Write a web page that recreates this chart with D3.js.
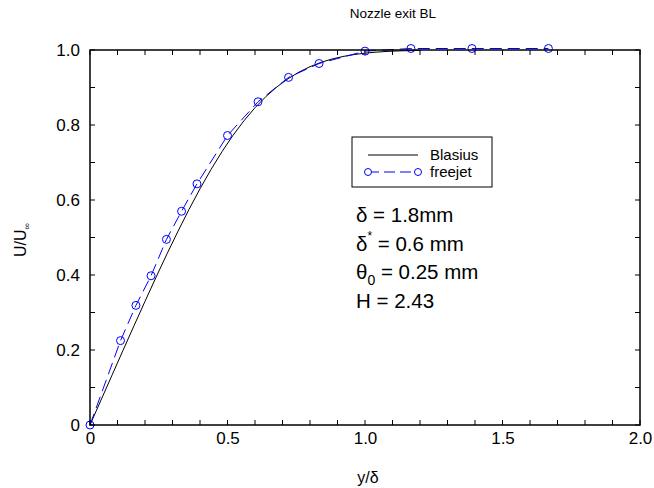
<!DOCTYPE html>
<html>
<head>
<meta charset="utf-8">
<script src="https://cdn.jsdelivr.net/npm/d3@7"></script>
<style>
  html, body { margin: 0; padding: 0; background: #fff; }
  svg { display: block; font-family: "Liberation Sans", Arial, Helvetica, sans-serif; }
</style>
</head>
<body>
<svg id="chart" width="654" height="488"></svg>
<script>
// Blasius similarity profile, plotted against y/delta
const blasiusX = [0, 0.04, 0.08, 0.12, 0.16, 0.20, 0.24, 0.28, 0.32, 0.36, 0.40, 0.44, 0.48,
  0.52, 0.56, 0.60, 0.64, 0.68, 0.72, 0.76, 0.80, 0.84, 0.88, 0.92, 0.96, 1.00,
  1.04, 1.08, 1.12, 1.16, 1.20];
const blasiusU = [0, 0.0664, 0.1328, 0.1989, 0.2647, 0.3298, 0.3938, 0.4563, 0.5168, 0.5748,
  0.6298, 0.6813, 0.7290, 0.7725, 0.8115, 0.8461, 0.8761, 0.9018, 0.9233, 0.9411,
  0.9555, 0.9670, 0.9759, 0.9827, 0.9878, 0.9916, 0.9943, 0.9962, 0.9975, 0.9984, 0.9990];

// Measured free-jet profile at the nozzle exit
const freejetX = [0, 0.111, 0.167, 0.222, 0.278, 0.333, 0.389, 0.500, 0.611, 0.722, 0.833,
  1.000, 1.167, 1.389, 1.667];
const freejetU = [0, 0.225, 0.319, 0.398, 0.495, 0.570, 0.643, 0.772, 0.862, 0.927, 0.964,
  0.997, 1.004, 1.004, 1.004];

const xTickLabels = ["0", "0.5", "1.0", "1.5", "2.0"];
const xTickValues = [0, 0.5, 1.0, 1.5, 2.0];
const yTickLabels = ["0", "0.2", "0.4", "0.6", "0.8", "1.0"];
const yTickValues = [0, 0.2, 0.4, 0.6, 0.8, 1.0];
const minorTicks = d3.range(0, 21).map(i => i / 10);

const svg = d3.select("#chart");
const m = { left: 90, right: 640, top: 50, bottom: 425 };

const x = d3.scaleLinear().domain([0, 2]).range([m.left, m.right]);
const y = d3.scaleLinear().domain([0, 1]).range([m.bottom, m.top]);

// minor ticks on all four sides, pointing inward
const tickLen = 5;
const tg = svg.append("g").attr("stroke", "#000").attr("stroke-width", 1);
minorTicks.filter(v => v <= 2).forEach(v => {
  tg.append("line").attr("x1", x(v)).attr("x2", x(v)).attr("y1", m.bottom).attr("y2", m.bottom - tickLen);
  tg.append("line").attr("x1", x(v)).attr("x2", x(v)).attr("y1", m.top).attr("y2", m.top + tickLen);
});
minorTicks.filter(v => v <= 1).forEach(v => {
  tg.append("line").attr("x1", m.left).attr("x2", m.left + tickLen).attr("y1", y(v)).attr("y2", y(v));
  tg.append("line").attr("x1", m.right).attr("x2", m.right - tickLen).attr("y1", y(v)).attr("y2", y(v));
});

// tick labels via d3 axes
const xAxis = d3.axisBottom(x).tickValues(xTickValues)
  .tickFormat((d, i) => xTickLabels[i]).tickSize(0).tickPadding(7);
const gx = svg.append("g").attr("transform", `translate(0,${m.bottom})`).call(xAxis);
gx.select(".domain").remove();
gx.selectAll("text").attr("font-size", 17).attr("fill", "#000").attr("font-family", "Liberation Sans, Arial, sans-serif");

const yAxis = d3.axisLeft(y).tickValues(yTickValues)
  .tickFormat((d, i) => yTickLabels[i]).tickSize(0).tickPadding(10);
const gy = svg.append("g").attr("transform", `translate(${m.left},0)`).call(yAxis);
gy.select(".domain").remove();
gy.selectAll("text").attr("font-size", 17).attr("fill", "#000").attr("font-family", "Liberation Sans, Arial, sans-serif");

// Blasius curve
const lineB = d3.line().x((d, i) => x(blasiusX[i])).y(d => y(d));
svg.append("path").datum(blasiusU).attr("d", lineB)
  .attr("fill", "none").attr("stroke", "#000").attr("stroke-width", 1);

// free-jet data: dashed line plus open circles
const lineF = d3.line().x((d, i) => x(freejetX[i])).y(d => y(d));
svg.append("path").datum(freejetU).attr("d", lineF)
  .attr("fill", "none").attr("stroke", "#0000ff").attr("stroke-width", 1)
  .attr("stroke-dasharray", "12,6");
svg.append("g").selectAll("circle").data(freejetU).join("circle")
  .attr("cx", (d, i) => x(freejetX[i])).attr("cy", d => y(d)).attr("r", 4)
  .attr("fill", "none").attr("stroke", "#0000ff").attr("stroke-width", 1);

// frame
svg.append("rect").attr("x", m.left).attr("y", m.top)
  .attr("width", m.right - m.left).attr("height", m.bottom - m.top)
  .attr("fill", "none").attr("stroke", "#000").attr("stroke-width", 1.5);

// title and axis labels
svg.append("text").attr("x", 393).attr("y", 18).attr("text-anchor", "middle")
  .attr("font-size", 13.5).text("Nozzle exit BL");
svg.append("text").attr("x", 368).attr("y", 483).attr("text-anchor", "middle")
  .attr("font-size", 16).text("y/δ");
const yl = svg.append("text").attr("transform", "translate(26,240) rotate(-90)")
  .attr("text-anchor", "middle").attr("font-size", 16);
yl.append("tspan").text("U/U");
yl.append("tspan").attr("font-size", 9).attr("dy", 4).text("∞");

// legend
const lg = svg.append("g");
lg.append("rect").attr("x", 352).attr("y", 137).attr("width", 140).attr("height", 50)
  .attr("fill", "#fff").attr("stroke", "#000").attr("stroke-width", 1);
lg.append("line").attr("x1", 368).attr("x2", 418).attr("y1", 155).attr("y2", 155)
  .attr("stroke", "#000").attr("stroke-width", 1);
lg.append("text").attr("x", 430).attr("y", 160).attr("font-size", 15).text("Blasius");
lg.append("line").attr("x1", 368).attr("x2", 418).attr("y1", 172).attr("y2", 172)
  .attr("stroke", "#0000ff").attr("stroke-width", 1).attr("stroke-dasharray", "11,5");
[368, 418].forEach(cx => lg.append("circle").attr("cx", cx).attr("cy", 172).attr("r", 3.5)
  .attr("fill", "#fff").attr("stroke", "#0000ff").attr("stroke-width", 1));
lg.append("text").attr("x", 430).attr("y", 177).attr("font-size", 15).text("freejet");

// boundary-layer parameters
const ann = svg.append("g").attr("font-size", 20.5);
ann.append("text").attr("x", 356).attr("y", 222).text("δ = 1.8mm");
const t2 = ann.append("text").attr("x", 356).attr("y", 251);
t2.append("tspan").text("δ");
t2.append("tspan").attr("font-size", 12).attr("dy", -11).text("*");
t2.append("tspan").attr("dy", 11).text(" = 0.6 mm");
const t3 = ann.append("text").attr("x", 356).attr("y", 279);
t3.append("tspan").text("θ");
t3.append("tspan").attr("font-size", 14).attr("dy", 6).text("0");
t3.append("tspan").attr("dy", -6).text(" = 0.25 mm");
ann.append("text").attr("x", 356).attr("y", 308).text("H = 2.43");
</script>
</body>
</html>
